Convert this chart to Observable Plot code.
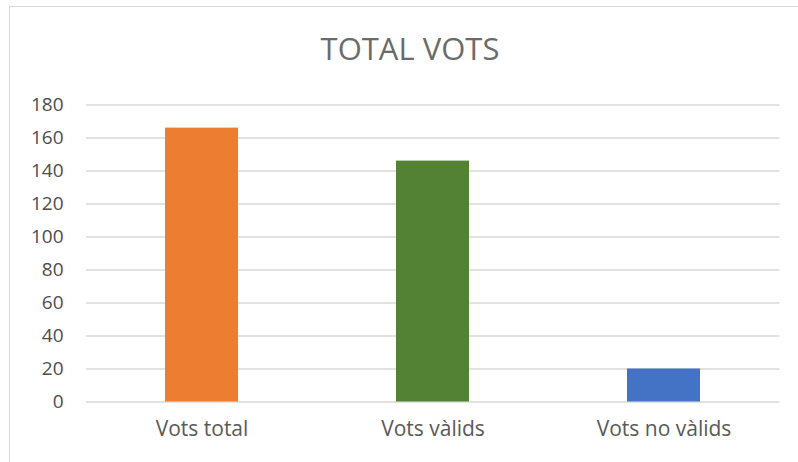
<!DOCTYPE html>
<html>
<head>
<meta charset="utf-8">
<script src="https://cdn.jsdelivr.net/npm/d3@7"></script>
<script src="https://cdn.jsdelivr.net/npm/@observablehq/plot@0.6"></script>
<style>
  html, body { margin: 0; padding: 0; background: #fff; }
  #wrap { position: relative; width: 798px; height: 462px; overflow: hidden; font-family: "Open Sans", sans-serif; }
  #border { position: absolute; left: 9px; top: 6px; width: 800px; height: 470px; border: 1.5px solid #d9d9d9; box-sizing: border-box; }
  #title { position: absolute; left: 11px; width: 798px; top: 28px; text-align: center; font-size: 31px; color: #6b6b6b; font-family: "Open Sans", sans-serif; font-weight: 400; line-height: 40px; }
  #chart { position: absolute; left: 0; top: 0; }
</style>
</head>
<body>
<div id="wrap">
  <div id="border"></div>
  <div id="title"></div>
  <div id="chart"></div>
</div>
<script>
const title = "TOTAL VOTS";
const categories = ["Vots total", "Vots vàlids", "Vots no vàlids"];
const values = [166, 146, 20];
const colors = ["#ED7D31", "#548235", "#4472C4"];
const yTicks = [0, 20, 40, 60, 80, 100, 120, 140, 160, 180];

const data = categories.map((c, i) => ({category: c, value: values[i], color: colors[i]}));

document.getElementById("title").textContent = title;

const chart = Plot.plot({
  width: 798,
  height: 462,
  marginLeft: 86,
  marginRight: 18.5,
  marginTop: 104.5,
  marginBottom: 60.5,
  style: {fontFamily: "Open Sans, sans-serif", background: "transparent", color: "#595959"},
  x: {domain: categories, paddingInner: 0.684, paddingOuter: 0.342, label: null},
  y: {domain: [0, 180], label: null},
  marks: [
    Plot.gridY(yTicks, {stroke: "#d9d9d9", strokeOpacity: 1, strokeWidth: 1.5}),
    Plot.barY(data, {x: "category", y: "value", fill: "color"}),
    Plot.axisY(yTicks, {tickSize: 0, tickPadding: 23, fontSize: 19, fill: "#4d4d4d", label: null}),
    Plot.axisX({tickSize: 0, tickPadding: 19, fontSize: 21, fill: "#595959", label: null})
  ]
});
document.getElementById("chart").appendChild(chart);
</script>
</body>
</html>
